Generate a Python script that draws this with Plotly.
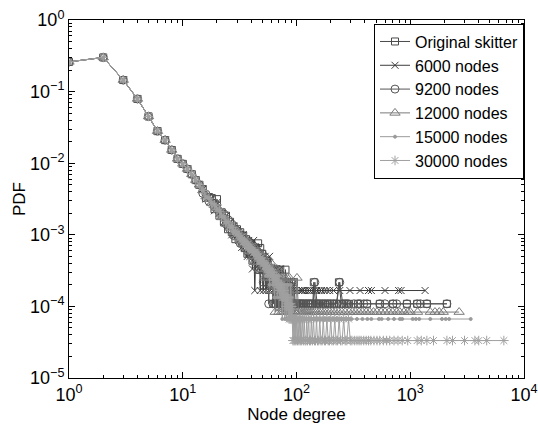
import plotly.graph_objects as go

# ---------------- data ----------------
series_names = ["Original skitter", "6000 nodes", "9200 nodes",
                "12000 nodes", "15000 nodes", "30000 nodes"]
series_nodes = [9204, 6000, 9200, 12000, 15000, 30000]

# shared head of the degree distribution (degree 1..14), PDF values
head_degree = [1, 2, 3, 4, 5, 6, 7, 8, 9, 10, 11, 12, 13, 14]
head_pdf = [0.26, 0.30, 0.145, 0.079, 0.045, 0.028, 0.021, 0.0153,
            0.0115, 0.0098, 0.0083, 0.0070, 0.0058, 0.0050]

# (degree, node count) pairs for degree >= 15, per series
skitter_counts = [
    (15, 40), (16, 30), (17, 31), (18, 30), (19, 21), (20, 29), (21, 17), (22, 19),
    (23, 14), (24, 17), (25, 11), (26, 14), (27, 10), (28, 12), (29, 8),
    (30, 11), (31, 8), (32, 10), (33, 7), (34, 9), (35, 6), (36, 8), (37, 5), (38, 7),
    (39, 5), (40, 7), (41, 4), (42, 6), (43, 5), (44, 6), (45, 4), (46, 7), (47, 3),
    (48, 6), (49, 4), (50, 5), (51, 3), (52, 4), (53, 3), (54, 2), (55, 4), (56, 3),
    (57, 2), (58, 3), (59, 2), (60, 3), (61, 2), (62, 3), (63, 1), (64, 3), (65, 2),
    (66, 1), (67, 3), (68, 2), (69, 1), (70, 2), (71, 1), (72, 3), (73, 1), (74, 2),
    (75, 1), (76, 2), (77, 1), (78, 2), (79, 1), (80, 3), (82, 1), (83, 2), (84, 1),
    (86, 2), (87, 1), (88, 1), (90, 2), (91, 1), (93, 1), (95, 2), (97, 1), (99, 1),
    (101, 1), (104, 1), (107, 1), (110, 1), (113, 1), (117, 1), (121, 1), (126, 1),
    (130, 1), (135, 1), (139, 1), (142, 2), (147, 1), (152, 1), (158, 1), (165, 1),
    (171, 1), (180, 1), (188, 1), (196, 1), (205, 1), (214, 1), (225, 1), (236, 2),
    (248, 1), (262, 1), (276, 1), (290, 1), (348, 1), (417, 1), (540, 1), (706, 1),
    (935, 1), (1150, 1), (1400, 1), (2100, 1)]

nodes6000_counts = [
    (15, 26), (16, 19), (17, 20), (18, 17), (19, 13), (20, 17), (21, 12), (22, 12),
    (23, 9), (24, 11), (25, 8), (26, 9), (27, 6), (28, 8), (29, 6), (30, 7), (31, 5),
    (32, 6), (33, 4), (34, 6), (35, 4), (36, 5), (37, 3), (38, 5), (39, 3), (40, 4),
    (41, 2), (42, 5), (43, 1), (44, 4), (45, 3), (46, 2), (47, 4), (48, 1), (49, 3),
    (50, 3), (51, 1), (52, 2), (53, 3), (54, 1), (55, 2), (57, 1), (58, 3), (59, 1),
    (60, 2), (62, 1), (63, 2), (65, 1), (66, 2), (68, 1), (70, 1), (72, 2), (74, 1),
    (77, 1), (79, 1), (82, 1), (85, 1), (88, 1), (92, 1), (97, 1),
    (105, 1), (110, 1), (113, 1), (118, 1), (124, 1), (130, 1), (136, 1), (143, 1),
    (150, 1), (158, 1), (166, 1), (175, 1), (185, 1), (196, 1), (212, 1), (240, 1),
    (295, 1), (362, 1), (430, 1), (455, 1), (600, 1), (790, 1), (830, 1), (1350, 1)]

nodes9200_counts = [
    (15, 35), (16, 34), (17, 27), (18, 29), (19, 23), (20, 24), (21, 19), (22, 17),
    (23, 18), (24, 13), (25, 15), (26, 11), (27, 13), (28, 9), (29, 11), (30, 9),
    (31, 10), (32, 7), (33, 9), (34, 7), (35, 8), (36, 6), (37, 7), (38, 5), (39, 7),
    (40, 5), (41, 6), (42, 4), (43, 6), (44, 4), (45, 5), (46, 3), (47, 5), (48, 4),
    (49, 3), (50, 5), (51, 2), (52, 4), (53, 3), (54, 2), (55, 3), (56, 4), (57, 1),
    (58, 3), (59, 2), (60, 2), (61, 3), (62, 1), (63, 2), (64, 3), (65, 1), (66, 2),
    (68, 2), (69, 1), (70, 3), (71, 1), (73, 2), (74, 1), (76, 2), (78, 1), (79, 1),
    (81, 2), (83, 1), (85, 2), (87, 1), (89, 1), (91, 2), (93, 1), (96, 1), (99, 1),
    (101, 1), (106, 1), (110, 1), (115, 1), (121, 1), (127, 1), (133, 1), (140, 1),
    (145, 2), (152, 1), (160, 1), (169, 1), (178, 1), (188, 1), (199, 1), (212, 1),
    (225, 1), (240, 2), (255, 1), (270, 1), (283, 1), (320, 1), (348, 1), (362, 1),
    (390, 1), (417, 1), (540, 1), (600, 1), (706, 1), (760, 1), (935, 1),
    (1150, 1), (1230, 1), (1400, 1), (2100, 1)]

nodes12000_counts = [
    (15, 50), (16, 41), (17, 38), (18, 33), (19, 31), (20, 28), (21, 27), (22, 21),
    (23, 22), (24, 17), (25, 18), (26, 15), (27, 16), (28, 13), (29, 14), (30, 11),
    (31, 13), (32, 10), (33, 11), (34, 9), (35, 11), (36, 8), (37, 10), (38, 7),
    (39, 9), (40, 7), (41, 8), (42, 6), (43, 8), (44, 5), (45, 7), (46, 5), (47, 7),
    (48, 4), (49, 6), (50, 4), (51, 6), (52, 3), (53, 5), (54, 4), (55, 5), (56, 3),
    (57, 4), (58, 2), (59, 5), (60, 3), (61, 4), (62, 2), (63, 3), (64, 4), (65, 1),
    (66, 3), (67, 4), (68, 2), (69, 3), (70, 1), (71, 3), (72, 2), (73, 3), (74, 1),
    (75, 2), (76, 3), (77, 1), (78, 2), (79, 3), (80, 1), (81, 2), (82, 1), (83, 3),
    (84, 1), (85, 2), (86, 1), (87, 3), (88, 1), (90, 2), (92, 1), (94, 2), (96, 1),
    (98, 1), (101, 3), (104, 1), (108, 1), (112, 1), (116, 1),
    (121, 1), (126, 1), (131, 1), (137, 1), (143, 1), (150, 1), (158, 1), (166, 1),
    (175, 1), (185, 1), (196, 1), (208, 1), (220, 1), (235, 1), (250, 1), (268, 1),
    (290, 1), (310, 1), (330, 1), (355, 1), (380, 1), (410, 1), (440, 1), (475, 1),
    (510, 1), (555, 1), (600, 1), (650, 1), (700, 1), (760, 1), (810, 1), (880, 1),
    (950, 1), (1000, 1), (1160, 1), (1500, 1), (1650, 1), (1800, 1), (1950, 1),
    (2690, 1)]

nodes15000_counts = [
    (15, 64), (16, 50), (17, 49), (18, 42), (19, 40), (20, 34), (21, 33), (22, 27),
    (23, 27), (24, 22), (25, 23), (26, 19), (27, 20), (28, 16), (29, 17), (30, 15),
    (31, 16), (32, 13), (33, 14), (34, 11), (35, 13), (36, 10), (37, 12), (38, 9),
    (39, 11), (40, 9), (41, 10), (42, 8), (43, 9), (44, 7), (45, 9), (46, 6), (47, 8),
    (48, 6), (49, 7), (50, 6), (51, 7), (52, 5), (53, 6), (54, 4), (55, 6), (56, 4),
    (57, 5), (58, 3), (59, 5), (60, 4), (61, 5), (62, 3), (63, 4), (64, 2), (65, 4),
    (66, 3), (67, 4), (68, 2), (69, 3), (70, 4), (71, 2), (72, 3), (73, 2), (74, 3),
    (75, 1), (76, 3), (77, 2), (78, 3), (79, 1), (80, 2), (81, 3), (82, 1), (83, 2),
    (84, 3), (85, 1), (86, 2), (87, 2), (88, 1), (89, 3), (90, 1), (91, 2), (92, 1),
    (93, 1), (94, 1), (96, 1),
    (97, 1), (99, 1), (101, 1), (103, 1), (105, 1), (107, 1), (110, 1), (112, 1),
    (115, 1), (118, 1), (121, 1), (124, 1), (127, 1), (130, 1), (134, 1), (138, 1),
    (142, 1), (146, 1), (150, 1), (155, 1), (160, 1), (165, 1), (170, 1), (176, 1),
    (182, 1), (188, 1), (195, 1), (202, 1), (210, 1), (218, 1), (227, 1), (236, 1),
    (246, 1), (256, 1), (267, 1), (279, 1), (292, 1), (305, 1), (340, 1), (380, 1),
    (420, 1), (455, 1), (530, 1), (560, 1), (640, 1), (720, 1), (810, 1), (850, 1),
    (1050, 1), (1120, 1), (1200, 1), (1500, 1), (1900, 1), (2050, 1), (2200, 1),
    (3400, 1)]

nodes30000_counts = [
    (15, 125), (16, 102), (17, 97), (18, 82), (19, 78), (20, 68), (21, 64), (22, 55),
    (23, 53), (24, 46), (25, 44), (26, 40), (27, 38), (28, 34), (29, 33), (30, 31),
    (31, 29), (32, 27), (33, 26), (34, 24), (35, 24), (36, 22), (37, 22), (38, 20),
    (39, 20), (40, 19), (41, 18), (42, 17), (43, 17), (44, 16), (45, 16), (46, 15),
    (47, 14), (48, 14), (49, 13), (50, 13), (51, 12), (52, 12), (53, 11), (54, 11),
    (55, 10), (56, 11), (57, 9), (58, 10), (59, 9), (60, 9), (61, 8), (62, 9), (63, 7),
    (64, 8), (65, 7), (66, 8), (67, 6), (68, 7), (69, 6), (70, 6), (71, 5), (72, 6),
    (73, 5), (74, 6), (75, 4), (76, 5), (77, 4), (78, 5), (79, 4), (80, 4), (81, 3),
    (82, 4), (83, 3), (84, 4), (85, 3), (86, 2), (87, 3), (88, 2), (89, 3), (90, 2),
    (91, 3), (92, 2), (93, 1), (94, 2), (95, 1), (96, 2), (97, 1), (98, 2), (99, 1),
    (100, 2), (102, 1), (103, 2), (105, 1), (106, 2), (108, 1), (109, 2), (111, 1),
    (113, 2), (115, 1), (117, 2), (119, 1), (121, 1), (123, 2), (125, 1), (128, 2),
    (130, 1), (133, 1), (135, 2), (138, 1), (141, 2), (144, 1), (147, 1), (150, 2),
    (153, 1), (157, 1), (160, 2), (164, 1), (168, 1), (172, 2), (176, 1), (180, 1),
    (185, 2), (190, 1), (195, 1), (200, 2), (205, 1), (211, 1), (217, 2), (223, 1),
    (230, 1), (237, 2), (244, 1), (252, 1), (260, 2), (268, 1), (277, 1), (287, 2),
    (297, 1), (307, 1), (325, 1), (340, 1), (355, 1), (370, 1), (390, 1), (410, 1),
    (430, 1), (450, 1), (480, 1), (510, 1), (540, 1), (580, 1), (620, 1), (660, 1),
    (720, 1), (780, 1), (850, 1), (950, 1), (1150, 1), (1250, 1), (1400, 1),
    (1600, 1), (2100, 1), (2350, 1), (3000, 1), (3700, 1), (4000, 1), (4700, 1),
    (6650, 1)]

series_counts = [skitter_counts, nodes6000_counts, nodes9200_counts,
                 nodes12000_counts, nodes15000_counts, nodes30000_counts]

x_tick_vals = [1, 10, 100, 1000, 10000]
x_tick_text = ["10<sup>0</sup>", "10<sup>1</sup>", "10<sup>2</sup>",
               "10<sup>3</sup>", "10<sup>4</sup>"]
y_tick_vals = [1e-5, 1e-4, 1e-3, 1e-2, 1e-1, 1]
y_tick_text = ["10<sup>\u22125</sup>", "10<sup>\u22124</sup>", "10<sup>\u22123</sup>",
               "10<sup>\u22122</sup>", "10<sup>\u22121</sup>", "10<sup>0</sup>"]

# ---------------- styling ----------------
styles = [
    dict(symbol="square-open", size=7, color="#4a4a4a"),
    dict(symbol="x-thin-open", size=7, color="#3c3c3c"),
    dict(symbol="circle-open", size=8, color="#555555"),
    dict(symbol="triangle-up-open", size=9, color="#7a7a7a"),
    dict(symbol="circle", size=3, color="#9a9a9a"),
    dict(symbol="asterisk-open", size=8, color="#a0a0a0"),
]

FONT = "Liberation Sans, Arial, Helvetica, sans-serif"

fig = go.Figure()
for name, n_nodes, counts, st in zip(series_names, series_nodes, series_counts, styles):
    deg = head_degree + [d for d, c in counts]
    pdf = head_pdf + [c / n_nodes for d, c in counts]
    fig.add_trace(go.Scatter(
        x=deg, y=pdf, mode="lines+markers", name=name,
        line=dict(color=st["color"], width=1),
        marker=dict(symbol=st["symbol"], size=st["size"], color=st["color"],
                    line=dict(color=st["color"], width=1)),
    ))

def minor_vals(lo, hi):
    vals = []
    for e in range(lo, hi):
        for m in range(2, 10):
            vals.append(m * 10 ** e)
    return vals

axis_common = dict(
    type="log", showgrid=False, zeroline=False, automargin=False,
    showline=True, linecolor="black", linewidth=1, mirror="allticks",
    ticks="inside", ticklen=6, tickwidth=1, tickcolor="black",
    tickfont=dict(family=FONT, size=18, color="black"),
)

fig.update_xaxes(
    **axis_common, range=[0, 4], tickmode="array",
    tickvals=x_tick_vals, ticktext=x_tick_text,
    minor=dict(tickmode="array", tickvals=minor_vals(0, 4), ticks="inside",
               ticklen=3, tickcolor="black", tickwidth=1, showgrid=False),
    title=dict(text="Node degree", font=dict(family=FONT, size=17, color="black"),
               standoff=0),
)
fig.update_yaxes(
    **axis_common, range=[-5, 0], tickmode="array",
    tickvals=y_tick_vals, ticktext=y_tick_text,
    minor=dict(tickmode="array",
               tickvals=[v * 1e-5 for v in minor_vals(0, 5)],
               ticks="inside", ticklen=3, tickcolor="black", tickwidth=1,
               showgrid=False),
    title=dict(text="PDF", font=dict(family=FONT, size=17, color="black"),
               standoff=0),
)

fig.update_layout(
    width=538, height=426,
    margin=dict(l=69, r=14, t=20, b=48),
    paper_bgcolor="white", plot_bgcolor="white",
    font=dict(family=FONT, color="black"),
    showlegend=True,
    legend=dict(x=1, y=0.99, xanchor="right", yanchor="top",
                bgcolor="white", bordercolor="black", borderwidth=1,
                font=dict(family=FONT, size=16, color="black"),
                tracegroupgap=0, itemwidth=30),
)

fig.write_html("out.html",
               config={"displayModeBar": False},
               post_script="document.body.style.margin='0';"
                           "document.body.style.padding='0';"
                           "document.body.style.overflow='hidden';")
